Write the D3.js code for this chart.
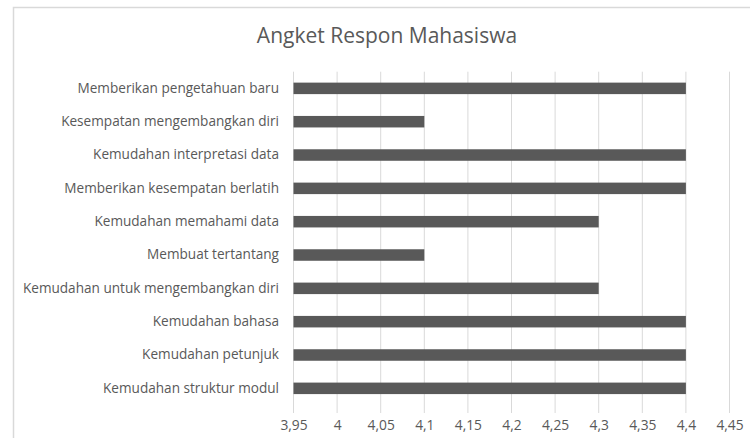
<!DOCTYPE html>
<html><head><meta charset="utf-8">
<script src="https://cdn.jsdelivr.net/npm/d3@7"></script>
<style>body{margin:0;background:#fff;} svg{display:block;}</style>
</head><body>
<script>
const categories = [
  "Memberikan pengetahuan baru",
  "Kesempatan mengembangkan diri",
  "Kemudahan interpretasi data",
  "Memberikan kesempatan berlatih",
  "Kemudahan memahami data",
  "Membuat tertantang",
  "Kemudahan untuk mengembangkan diri",
  "Kemudahan bahasa",
  "Kemudahan petunjuk",
  "Kemudahan struktur modul"
];
const values = [4.4, 4.1, 4.4, 4.4, 4.3, 4.1, 4.3, 4.4, 4.4, 4.4];
const tickValues = [3.95, 4, 4.05, 4.1, 4.15, 4.2, 4.25, 4.3, 4.35, 4.4, 4.45];
const title = "Angket Respon Mahasiswa";

const W = 750, H = 438;
const svg = d3.select("body").append("svg").attr("width", W).attr("height", H);
const font = "'Open Sans', sans-serif";
const textColor = "#595959";

// chart border
svg.append("rect").attr("x", 13.5).attr("y", 7.5).attr("width", W + 20).attr("height", H + 20)
  .attr("fill", "none").attr("stroke", "#d9d9d9").attr("stroke-width", 1.5);

const x = d3.scaleLinear().domain([3.95, 4.45]).range([293.5, 729.5]);
const y = d3.scaleBand().domain(categories).range([71.7, 405]).paddingInner(0.655).paddingOuter(0.3275);

// gridlines
svg.append("g").selectAll("line").data(tickValues).join("line")
  .attr("x1", d => x(d)).attr("x2", d => x(d))
  .attr("y1", 71.7).attr("y2", 413)
  .attr("stroke", "#d9d9d9").attr("stroke-width", 1);

// bars
svg.append("g").selectAll("rect").data(values).join("rect")
  .attr("x", x(3.95))
  .attr("y", (d, i) => y(categories[i]))
  .attr("width", d => x(d) - x(3.95))
  .attr("height", y.bandwidth())
  .attr("fill", "#595959");

// x axis
const xAxis = d3.axisBottom(x).tickValues(tickValues).tickSize(0).tickPadding(0)
  .tickFormat(d => d3.format("")(+d.toFixed(2)).replace(".", ","));
const gx = svg.append("g").attr("transform", "translate(0,420)").call(xAxis);
gx.select(".domain").remove();
gx.selectAll("text").attr("dy", "0.71em").attr("y", 0)
  .attr("fill", textColor).style("font-family", font).style("font-size", "13.8px");

// y axis
const yAxis = d3.axisLeft(y).tickSize(0).tickPadding(0);
const gy = svg.append("g").attr("transform", "translate(279,0)").call(yAxis);
gy.select(".domain").remove();
gy.selectAll("text").attr("fill", textColor).style("font-family", font).style("font-size", "13.6px");

// title
svg.append("text").attr("x", 387).attr("y", 43).attr("text-anchor", "middle")
  .attr("fill", textColor).style("font-family", font).style("font-size", "21px")
  .text(title);
</script>
</body></html>
